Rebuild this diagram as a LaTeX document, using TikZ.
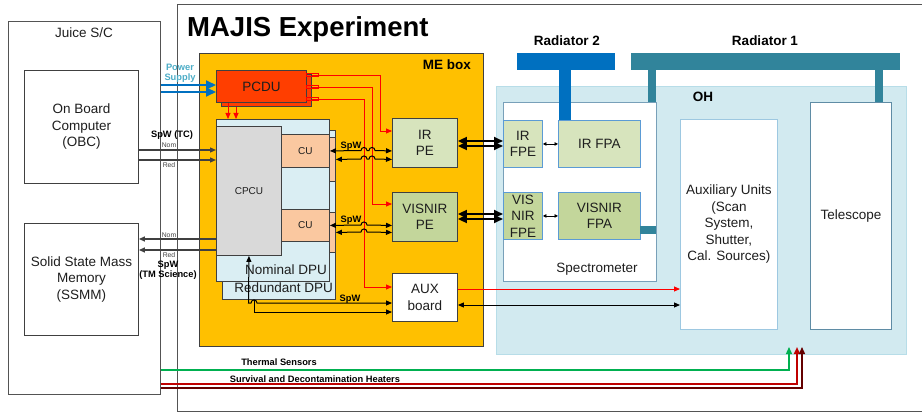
\documentclass[tikz,border=0pt]{standalone}
\usepackage{fontspec}
\setmainfont{Liberation Sans}
\usetikzlibrary{arrows.meta,calc}
\definecolor{meorange}{RGB}{255,192,0}
\definecolor{pcdured}{RGB}{255,62,0}
\definecolor{dpublue}{RGB}{218,238,243}
\definecolor{cupeach}{RGB}{250,200,160}
\definecolor{cpcugray}{RGB}{217,217,217}
\definecolor{pegreen}{RGB}{215,228,189}
\definecolor{pegreen2}{RGB}{195,214,155}
\definecolor{ohblue}{RGB}{210,234,240}
\definecolor{ohedge}{RGB}{183,221,232}
\definecolor{specedge}{RGB}{120,160,185}
\definecolor{fpeedge}{RGB}{91,155,213}
\definecolor{auxedge}{RGB}{157,200,225}
\definecolor{teledge}{RGB}{95,140,165}
\definecolor{radblue}{RGB}{0,112,192}
\definecolor{radteal}{RGB}{49,132,155}
\definecolor{pslabel}{RGB}{75,172,198}
\definecolor{thgreen}{RGB}{0,176,80}
\definecolor{htred}{RGB}{192,0,0}
\definecolor{htdark}{RGB}{100,0,0}
\definecolor{txt}{RGB}{30,30,30}
\definecolor{edge}{RGB}{64,64,64}
\newcommand\fs[2]{\fontsize{#1}{#2}\selectfont}
\begin{document}
\begin{tikzpicture}[x=1pt,y=-1pt,
  >={Triangle[length=6pt,width=5pt]},
  blk/.style={draw=edge, line width=0.9pt, anchor=north west, inner sep=0pt, align=center, text=txt, font=\fs{13.5}{16.5}},
  wh/.style 2 args={minimum width=#1pt, minimum height=#2pt},
  lbl/.style={text=txt, font=\fs{13.5}{16.5}, inner sep=0pt},
  blbl/.style={text=black, font=\bfseries\fs{13.5}{16.5}, inner sep=0pt},
  slbl/.style={text=black, font=\bfseries\fs{9.3}{10}, inner sep=0pt},
  tlbl/.style={text=edge, font=\fs{6.8}{8}, inner sep=0pt},
  conn/.style={line width=1pt, black, <->},
  bigconn/.style={line width=1.7pt, black, {Triangle[length=9pt,width=8pt]}-{Triangle[length=9pt,width=8pt]}},
  tinyconn/.style={line width=0.8pt, black, {Triangle[length=3.5pt,width=3.5pt]}-{Triangle[length=3.5pt,width=3.5pt]}},
  wire/.style={line width=1.2pt, edge, ->},
  redline/.style={line width=0.9pt, red},
  pwr/.style={line width=2pt, radblue, -{Triangle[length=10pt,width=9pt]}},
  heat/.style={-{Triangle[length=7pt,width=6pt]}}
]
\useasboundingbox (0,0) rectangle (922,412);

% Juice S/C
\node[blk, draw=edge!90, line width=1pt, wh={152}{373}] (juice) at (8,21) {};
\node[lbl, anchor=base] at (84,38) {Juice S/C};
\node[blk, wh={114}{113}] (obc) at (24,70) {On Board\\Computer\\(OBC)};
\node[blk, wh={114}{112}] (ssmm) at (24,223) {Solid State Mass\\Memory\\(SSMM)};

% MAJIS
\node[blk, draw=edge!90, line width=1pt, wh={760}{407}] (majis) at (177,4) {};
\node[anchor=base west, inner sep=0pt, text=black, font=\bfseries\fs{27.5}{30}] at (187,37) {MAJIS Experiment};

% OH
\node[blk, draw=ohedge, fill=ohblue, wh={410}{268}] (oh) at (496,86) {};
\node[blbl, anchor=base] at (703,102) {OH};
\node[blk, draw=specedge, fill=white, wh={153}{179}] (spec) at (503,102) {};
\node[lbl, anchor=base] at (597,272) {Spectrometer};
\node[blk, draw=fpeedge, fill=pegreen, wh={39}{47}] (irfpe) at (503,120) {IR\\FPE};
\node[blk, draw=fpeedge, fill=pegreen, wh={82}{47}] (irfpa) at (558,120) {IR FPA};
\node[blk, draw=fpeedge, fill=pegreen2, wh={39}{47}] (visfpe) at (503,192) {VIS\\NIR\\FPE};
\node[blk, draw=fpeedge, fill=pegreen2, wh={82}{47}] (visfpa) at (558,192) {VISNIR\\FPA};
\node[blk, draw=auxedge, fill=white, wh={97}{210}] (auxu) at (680,119) {Auxiliary Units\\(Scan\\System,\\Shutter,\\Cal. Sources)};
\node[blk, draw=teledge, fill=white, wh={81}{227}] (tele) at (810,102) {Telescope};

% Radiators
\node[anchor=north west, inner sep=0pt, fill=radblue, wh={98}{17}] (rad2) at (517,53) {};
\fill[radblue] (559,70) rectangle (571,120);
\node[blbl, anchor=base] at (567,46) {Radiator 2};
\node[anchor=north west, inner sep=0pt, fill=radteal, wh={269}{17}] (rad1) at (631,53) {};
\fill[radteal] (648,70) rectangle (656,102);
\fill[radteal] (875,70) rectangle (883,102);
\fill[radteal] (640,226) rectangle (656,234);
\node[blbl, anchor=base] at (765,46) {Radiator 1};

% ME box
\node[blk, fill=meorange, wh={284}{293}] (me) at (199,53) {};
\node[blbl, anchor=base east] at (471,70) {ME box};
\node[blk, fill=pcdured, wh={90}{32}] (pcdus) at (221,74) {};
\node[blk, fill=pcdured, wh={90}{32}] (pcdu) at (216,70) {PCDU};

% DPUs
\node[blk, fill=dpublue, wh={113}{169}] (rdpu) at (222,130) {};
\node[blk, fill=cupeach, wh={48}{44}] (rcu1) at (287,137) {};
\node[blk, fill=cupeach, wh={48}{40}] (rcu2) at (287,212) {};
\node[lbl, anchor=base east] at (333,292) {Redundant DPU};
\node[blk, fill=dpublue, wh={113}{162}] (ndpu) at (216,119) {};
\node[blk, fill=cupeach, wh={48}{33}, font=\fs{10}{12}] (cu1) at (281,134) {CU};
\node[blk, fill=cupeach, wh={48}{32}, font=\fs{10}{12}] (cu2) at (281,209) {CU};
\node[blk, fill=cpcugray, wh={65}{129}, font=\fs{10}{12}] (cpcu) at (216,126) {CPCU};
\node[lbl, anchor=base east] at (327,274) {Nominal DPU};

% PE boxes
\node[blk, fill=pegreen, wh={65}{49}] (irpe) at (392,118) {IR\\PE};
\node[blk, fill=pegreen2, wh={65}{49}] (vispe) at (392,192) {VISNIR\\PE};
\node[blk, fill=white, wh={65}{48}] (aux) at (392,273) {AUX\\board};

% PCDU power lines
\foreach \yy in {75,87,99} {\draw[red, line width=0.6pt] (306,\yy-1.5) rectangle (318,\yy+1.5);}
\draw[redline, ->] (pcdus.east |- 0,75) -- (380,75) -- (380,131) -- (irpe.west |- 0,131);
\draw[redline, ->] (pcdus.east |- 0,87) -- (372,87) -- (372,204) -- (vispe.west |- 0,204);
\draw[redline, ->] (pcdus.east |- 0,99) -- (364,99) -- (364,287) -- (aux.west |- 0,287);
\draw[redline, ->] (pcdu.south -| 228,0) -- (ndpu.north -| 228,0);
\draw[redline, ->] (pcdus.south -| 236,0) -- (ndpu.north -| 236,0);

% SpW CU <-> PE
\draw[conn] (cu1.east) -- (361,150.5) .. controls (361,146.5) and (367,146.5) .. (367,150.5) -- (369,150.5) .. controls (369,146.5) and (375,146.5) .. (375,150.5) -- (irpe.west |- cu1.east);
\draw[conn] (rcu1.east) -- (361,159) .. controls (361,155) and (367,155) .. (367,159) -- (369,159) .. controls (369,155) and (375,155) .. (375,159) -- (irpe.west |- rcu1.east);
\draw[conn] (cu2.east) -- (361,225) .. controls (361,221) and (367,221) .. (367,225) -- (vispe.west |- cu2.east);
\draw[conn] (rcu2.east) -- (361,232) .. controls (361,228) and (367,228) .. (367,232) -- (vispe.west |- rcu2.east);
\node[slbl, anchor=base] at (351,148) {SpW};
\node[slbl, anchor=base] at (351,222) {SpW};

% SpW DPU <-> AUX
\draw[conn] (cpcu.south) -- (248.5,303) -- (251,303) .. controls (251,299) and (257,299) .. (257,303) -- (aux.west |- 0,303);
\draw[line width=1pt, ->] (rdpu.south -| 254,0) -- (254,312) -- (aux.west |- 0,312);
\node[slbl, anchor=base] at (350,301) {SpW};

% PE <-> FPE
\draw[bigconn] (irpe.east |- 0,141) -- (irfpe.west |- 0,141);
\draw[bigconn] (irpe.east |- 0,146) -- (irfpe.west |- 0,146);
\draw[bigconn] (vispe.east |- 0,214) -- (visfpe.west |- 0,214);
\draw[bigconn] (vispe.east |- 0,219) -- (visfpe.west |- 0,219);
\draw[tinyconn] (irfpe.east) -- (irfpa.west);
\draw[tinyconn] (visfpe.east) -- (visfpa.west);

% AUX board <-> auxiliary units
\draw[redline, ->] (aux.east |- 0,289) -- (auxu.west |- 0,289);
\draw[conn] (aux.east |- 0,305) -- (auxu.west |- 0,305);

% OBC / SSMM links
\draw[wire] (obc.east |- 0,150) -- (cpcu.west |- 0,150);
\draw[wire] (obc.east |- 0,160) -- (cpcu.west |- 0,160);
\draw[wire] (cpcu.west |- 0,239) -- (ssmm.east |- 0,239);
\draw[wire] (cpcu.west |- 0,250) -- (ssmm.east |- 0,250);
\node[slbl, anchor=base] at (172,137) {SpW (TC)};
\node[tlbl, anchor=base] at (169,147) {Nom};
\node[tlbl, anchor=base] at (169,167) {Red};
\node[tlbl, anchor=base] at (169,237) {Nom};
\node[tlbl, anchor=base] at (169,257) {Red};
\node[slbl, anchor=base] at (168,267) {SpW};
\node[slbl, anchor=base] at (168,277) {(TM Science)};

% Power supply
\draw[pwr] (juice.east |- 0,85) -- (pcdu.west |- 0,85);
\draw[pwr] (juice.east |- 0,92) -- (pcdu.west |- 0,92);
\node[slbl, text=pslabel, anchor=base] at (180,71) {Power};
\node[slbl, text=pslabel, anchor=base] at (180,81) {Supply};

% Thermal and heaters
\draw[thgreen, line width=1.3pt, heat] (juice.east |- 0,370) -| (789,347);
\draw[htred, line width=1.8pt, heat] (juice.east |- 0,384) -| (797,347);
\draw[htdark, line width=1.3pt, heat] (juice.east |- 0,388) -| (802,347);
\node[slbl, anchor=base] at (279,365) {Thermal Sensors};
\node[slbl, anchor=base] at (315,382) {Survival and Decontamination Heaters};
\end{tikzpicture}
\end{document}
